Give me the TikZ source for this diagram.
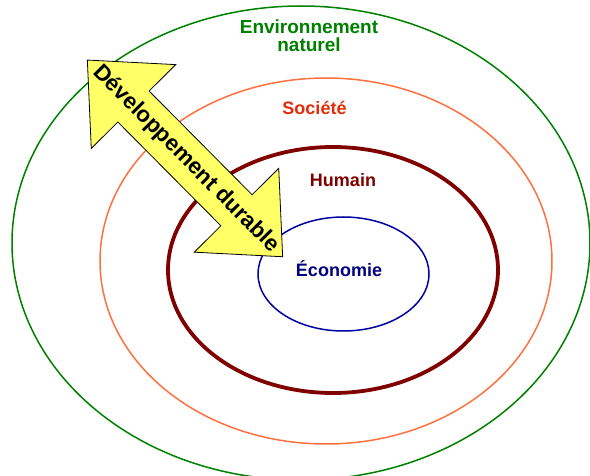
\documentclass[tikz,border=0pt]{standalone}
\usepackage{fontspec}
\setmainfont{Liberation Sans}

\definecolor{envgreen}{RGB}{0,128,0}
\definecolor{socorange}{RGB}{255,112,64}
\definecolor{soctext}{RGB}{226,44,12}
\definecolor{humred}{RGB}{128,0,0}
\definecolor{ecoblue}{RGB}{0,0,160}
\definecolor{ecotext}{RGB}{0,0,128}
\definecolor{arrowyellow}{RGB}{255,255,102}

\begin{document}
\begin{tikzpicture}[x=1pt,y=-1pt]
	\def\arrowangle{-45.2}
	
	\tikzstyle{ring}=[line width=1.5pt]
	\tikzstyle{label text}=[font=\bfseries\fontsize{18}{18}\selectfont, inner sep=0pt, anchor=base]
	\tikzstyle{arrow body}=[fill=arrowyellow, draw=black, line width=0.8pt, line join=miter]
	\tikzstyle{arrow text}=[font=\bfseries\fontsize{22.4}{22.4}\selectfont, inner sep=0pt, rotate=\arrowangle]
	
	\useasboundingbox (0,0) rectangle (590,476);
	
	% Draw the nested circles, from the outside in
	\draw[ring, draw=envgreen] (301,243) ellipse [x radius=289pt, y radius=237pt];
	\draw[ring, draw=socorange] (326,261) ellipse [x radius=226pt, y radius=183pt];
	\draw[ring, draw=humred, line width=3.8pt] (333,270) ellipse [x radius=165pt, y radius=123pt];
	\draw[ring, draw=ecoblue] (343.5,274) ellipse [x radius=85.5pt, y radius=57pt];
	
	% Label each circle
	\node[label text, envgreen, align=center, font=\bfseries\fontsize{19}{17.7}\selectfont] (env) at (309,51.7) {Environnement\\naturel};
	\node[label text, soctext] (soc) at (314.5,115) {Société};
	\node[label text, humred] (hum) at (343,186.7) {Humain};
	\node[label text, ecotext] (eco) at (339,276.7) {Économie};
	
	% The double arrow across the circles
	\begin{scope}[shift={(185,158.4)}, rotate=\arrowangle]
		\draw[arrow body] (-138.6,0) -- (-73.1,59.5) -- (-73.1,22) -- (73.1,22) -- (73.1,59.5)
			-- (138.6,0) -- (73.1,-59.5) -- (73.1,-22) -- (-73.1,-22) -- (-73.1,-59.5) -- cycle;
	\end{scope}
	\node[arrow text] (dd) at (186,159) {Développement durable};
\end{tikzpicture}
\end{document}
